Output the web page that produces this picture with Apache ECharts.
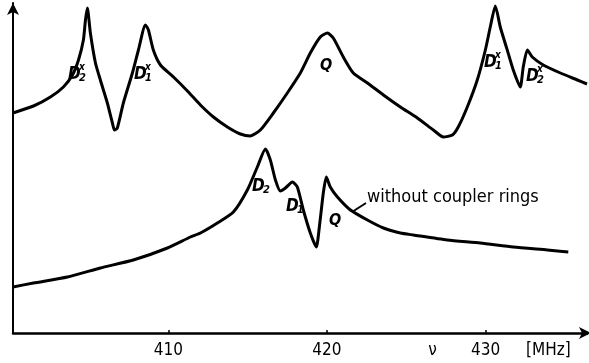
<!DOCTYPE html>
<html><head><meta charset="utf-8">
<script src="https://cdn.jsdelivr.net/npm/echarts@6/dist/echarts.min.js"></script>
<style>html,body{margin:0;padding:0;background:#fff}#c{width:589px;height:363px}</style>
</head><body><div id="c"></div>
<script>
// Frequency (MHz) and response (arbitrary units)
const withRingsFreq = [400.2,401.49,402.56,403.38,403.95,404.33,404.64,404.77,404.89,405.08,405.40,405.71,406.15,406.47,406.60,406.78,407.16,407.73,408.11,408.55,408.74,409.05,409.50,410.32,411.20,412.02,412.84,413.72,414.54,415.17,415.80,416.62,417.50,418.32,418.95,419.58,420.03,420.40,421.03,421.66,422.55,423.56,424.63,425.70,426.71,427.34,427.91,428.28,428.85,429.48,429.99,430.30,430.62,430.93,431.37,431.75,432.19,432.38,432.64,432.95,433.64,434.72,435.79,436.4];
const withRingsVal = [220,227,236,246,258,273,293,313,325,300,270,253,230,210,203,205,230,260,283,308,303,283,268,256,242,228,216,206,199,197,203,220,240,260,280,296,300,295,276,260,250,238,226,215,203,196,198,206,226,253,283,306,327,306,283,263,246,266,283,276,268,260,253,249];
const withoutRingsFreq = [400.2,401.49,403.63,405.71,407.79,409.94,411.39,412.02,413.09,414.10,414.98,415.61,416.12,416.43,416.75,417.06,417.38,417.82,418.13,418.51,418.95,419.33,419.52,419.77,419.96,420.21,420.66,421.48,422.55,423.56,424.63,425.45,427.59,429.67,431.75,433.90,435.22];
const withoutRingsVal = [46,50,56,65,73,85,96,100,110,121,143,166,184,173,153,142,145,151,146,123,100,86,106,140,156,146,136,123,113,105,100,98,93,90,86,83,81];
const tickValues = [410,420,430];
const axisTexts = {426.65:'ν', 433.96:'[MHz]'};
const curveLabel = 'without coupler rings';

const pair = (xs, ys) => xs.map((x,i)=>[x, ys[i]]);
const chart = echarts.init(document.getElementById('c'), null, {renderer:'canvas'});
const FONT = '"DejaVu Sans Condensed", "DejaVu Sans", sans-serif';

function dLabel(x, y, sub, sup) {
  const items = [{type:'text', left:x, top:y, style:{text:'D', font:'italic bold 17px ' + FONT, fill:'#000'}}];
  items.push({type:'text', left:x+11, top:y+7, style:{text:sub, font:'italic bold 11px ' + FONT, fill:'#000'}});
  if (sup) items.push({type:'text', left:x+11, top:y-4, style:{text:sup, font:'italic bold 10px ' + FONT, fill:'#000'}});
  return items;
}
function qLabel(x, y) {
  return [{type:'text', left:x, top:y, style:{text:'Q', font:'italic bold 16px ' + FONT, fill:'#000'}}];
}

const graphics = [].concat(
  dLabel(68, 66, '2', 'x'),
  dLabel(134, 66, '1', 'x'),
  qLabel(320, 58),
  dLabel(484, 54, '1', 'x'),
  dLabel(526, 68, '2', 'x'),
  dLabel(252, 178, '2'),
  dLabel(286, 198, '1'),
  qLabel(329, 213),
  [{type:'line', shape:{x1:352, y1:212, x2:366, y2:203}, style:{stroke:'#000', lineWidth:2}},
   {type:'text', left:367, top:188, style:{text:curveLabel, font:'18px ' + FONT, fill:'#000'}}]
);

chart.setOption({
  animation:false,
  backgroundColor:'#fff',
  grid:{left:13, right:2, top:3, bottom:30},
  xAxis:{type:'value', min:400.2, max:436.4,
    axisLine:{show:true, lineStyle:{color:'#000', width:2.5}, symbol:['none','arrow'], symbolSize:[9,12], symbolOffset:[0,4]},
    axisTick:{show:true, inside:true, length:3, customValues:tickValues, lineStyle:{color:'#000', width:1.5}},
    axisLabel:{customValues:tickValues.concat([426.65,433.96]), margin:9,
      formatter:v => axisTexts[v] || String(v), color:'#000', fontSize:17, fontFamily:FONT},
    splitLine:{show:false}},
  yAxis:{type:'value', min:0, max:330,
    axisLine:{show:true, lineStyle:{color:'#000', width:2}, symbol:['none','arrow'], symbolSize:[9,12]},
    axisTick:{show:false}, axisLabel:{show:false}, splitLine:{show:false}},
  graphic:graphics,
  series:[
    {type:'line', data:pair(withRingsFreq, withRingsVal), showSymbol:false, smooth:0.2,
     lineStyle:{color:'#000', width:3}},
    {type:'line', data:pair(withoutRingsFreq, withoutRingsVal), showSymbol:false, smooth:0.2,
     lineStyle:{color:'#000', width:3}}
  ]
});
</script></body></html>
